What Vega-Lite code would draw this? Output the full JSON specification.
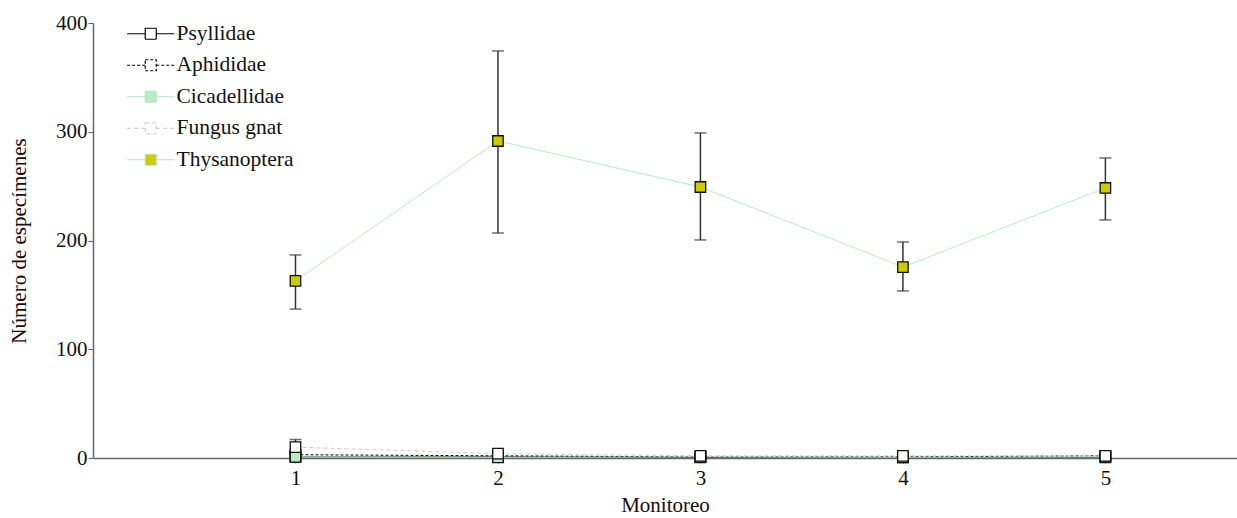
{
  "$schema": "https://vega.github.io/schema/vega-lite/v6.json",
  "width": 1144,
  "height": 435,
  "autosize": {"type": "none"},
  "padding": {"left": 93, "top": 23, "right": 0, "bottom": 60},
  "background": "white",
  "config": {
    "font": "Liberation Serif, DejaVu Serif, serif",
    "view": {"stroke": null},
    "axis": {
      "grid": false,
      "domainColor": "#666666",
      "domainWidth": 1.5,
      "tickColor": "#666666",
      "tickSize": 5,
      "labelFont": "Liberation Serif, DejaVu Serif, serif",
      "labelFontSize": 21,
      "labelColor": "#111111",
      "titleFont": "Liberation Serif, DejaVu Serif, serif",
      "titleFontSize": 21,
      "titleFontWeight": "normal",
      "titleColor": "#1a0a0a"
    },
    "legend": {
      "labelFont": "Liberation Serif, DejaVu Serif, serif",
      "labelFontSize": 21.5,
      "labelColor": "#111111",
      "symbolType": "M-4.3,0H-1M1,0H4.3M-1,-1H1V1H-1Z",
      "symbolSize": 121,
      "symbolStrokeWidth": 1.2
    }
  },
  "data": {
    "values": [
      {"monitoreo": 1, "serie": "Psyllidae", "valor": 1},
      {"monitoreo": 2, "serie": "Psyllidae", "valor": 1},
      {"monitoreo": 3, "serie": "Psyllidae", "valor": 0.5},
      {"monitoreo": 4, "serie": "Psyllidae", "valor": 0.5},
      {"monitoreo": 5, "serie": "Psyllidae", "valor": 0.5},
      {"monitoreo": 1, "serie": "Aphididae", "valor": 3},
      {"monitoreo": 2, "serie": "Aphididae", "valor": 2},
      {"monitoreo": 3, "serie": "Aphididae", "valor": 1},
      {"monitoreo": 4, "serie": "Aphididae", "valor": 1},
      {"monitoreo": 5, "serie": "Aphididae", "valor": 2},
      {"monitoreo": 1, "serie": "Cicadellidae", "valor": 1},
      {"monitoreo": 2, "serie": "Cicadellidae", "valor": 0.5},
      {"monitoreo": 3, "serie": "Cicadellidae", "valor": 1},
      {"monitoreo": 4, "serie": "Cicadellidae", "valor": 0.5},
      {"monitoreo": 5, "serie": "Cicadellidae", "valor": 1},
      {"monitoreo": 1, "serie": "Fungus gnat", "valor": 10, "lo": 4, "hi": 17},
      {"monitoreo": 2, "serie": "Fungus gnat", "valor": 4},
      {"monitoreo": 3, "serie": "Fungus gnat", "valor": 2},
      {"monitoreo": 4, "serie": "Fungus gnat", "valor": 2},
      {"monitoreo": 5, "serie": "Fungus gnat", "valor": 2},
      {"monitoreo": 1, "serie": "Thysanoptera", "valor": 162.8, "lo": 137, "hi": 186.7},
      {"monitoreo": 2, "serie": "Thysanoptera", "valor": 291.5, "lo": 206.9, "hi": 374.3},
      {"monitoreo": 3, "serie": "Thysanoptera", "valor": 249.2, "lo": 200.5, "hi": 298.9},
      {"monitoreo": 4, "serie": "Thysanoptera", "valor": 175.6, "lo": 153.6, "hi": 198.6},
      {"monitoreo": 5, "serie": "Thysanoptera", "valor": 248.3, "lo": 218.9, "hi": 275.9}
    ]
  },
  "encoding": {
    "x": {
      "field": "monitoreo",
      "type": "quantitative",
      "title": "Monitoreo",
      "scale": {"domain": [0, 5.65], "nice": false, "zero": false},
      "axis": {"values": [1, 2, 3, 4, 5], "labelPadding": 4, "titlePadding": 6}
    }
  },
  "layer": [
    {
      "mark": {"type": "line", "strokeWidth": 1},
      "encoding": {
        "y": {
          "field": "valor", "type": "quantitative", "title": "Número de especímenes",
          "scale": {"domain": [0, 400], "nice": false},
          "axis": {"values": [0, 100, 200, 300, 400], "labelPadding": 1, "titlePadding": 26}
        },
        "stroke": {
          "field": "serie", "type": "nominal",
          "scale": {
            "domain": ["Psyllidae", "Aphididae", "Cicadellidae", "Fungus gnat", "Thysanoptera"],
            "range": ["#000000", "#000000", "#b4e8c0", "#cccccc", "#b4e8c0"]
          },
          "legend": {
            "title": null, "orient": "none", "legendX": 47, "legendY": 0,
            "padding": 0, "labelOffset": 15, "rowPadding": 8.5
          }
        },
        "strokeDash": {
          "field": "serie", "type": "nominal",
          "scale": {
            "domain": ["Psyllidae", "Aphididae", "Cicadellidae", "Fungus gnat", "Thysanoptera"],
            "range": [[1, 0], [3, 2], [1, 0], [4, 3], [1, 0]]
          },
          "legend": {
            "title": null, "orient": "none", "legendX": 47, "legendY": 0,
            "padding": 0, "labelOffset": 15, "rowPadding": 8.5
          }
        },
        "detail": {"field": "serie"}
      }
    },
    {
      "transform": [{"filter": "isValid(datum.lo)"}],
      "mark": {"type": "rule", "color": "#333333", "strokeWidth": 1.5},
      "encoding": {
        "y": {"field": "lo", "type": "quantitative", "title": "Número de especímenes"},
        "y2": {"field": "hi"}
      }
    },
    {
      "transform": [{"filter": "isValid(datum.lo)"}],
      "mark": {"type": "tick", "orient": "horizontal", "color": "#333333", "size": 12, "thickness": 1.5},
      "encoding": {
        "y": {"field": "lo", "type": "quantitative", "title": "Número de especímenes"}
      }
    },
    {
      "transform": [{"filter": "isValid(datum.hi)"}],
      "mark": {"type": "tick", "orient": "horizontal", "color": "#333333", "size": 12, "thickness": 1.5},
      "encoding": {
        "y": {"field": "hi", "type": "quantitative", "title": "Número de especímenes"}
      }
    },
    {
      "mark": {"type": "point", "shape": "square", "size": 110, "filled": true, "stroke": "#111111", "strokeWidth": 1.3, "opacity": 1},
      "encoding": {
        "y": {"field": "valor", "type": "quantitative", "title": "Número de especímenes"},
        "fill": {
          "field": "serie", "type": "nominal",
          "scale": {
            "domain": ["Psyllidae", "Aphididae", "Cicadellidae", "Fungus gnat", "Thysanoptera"],
            "range": ["#ffffff", "#ffffff", "#b8ecc4", "#ffffff", "#cccc00"]
          },
          "legend": {
            "title": null, "orient": "none", "legendX": 47, "legendY": 0,
            "padding": 0, "labelOffset": 15, "rowPadding": 8.5
          }
        }
      }
    }
  ]
}
